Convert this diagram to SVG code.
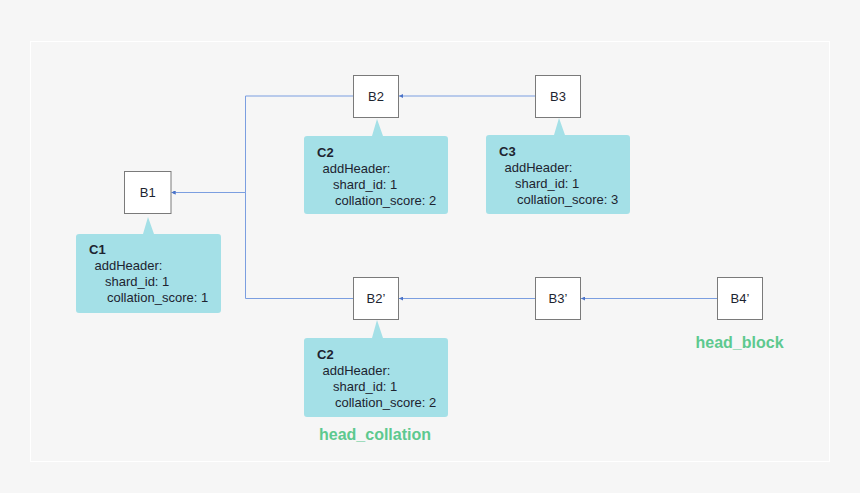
<svg xmlns="http://www.w3.org/2000/svg" width="860" height="493" viewBox="0 0 860 493">
<defs>
<style>
.blk rect{fill:#ffffff;stroke:#7a7a7a;stroke-width:1}
.blk text{font-family:"Liberation Sans",Arial,sans-serif;font-size:13px;fill:#1d2430;text-anchor:middle}
.note path{fill:#a4e0e7}
.note text{font-family:"Liberation Sans",Arial,sans-serif;font-size:13px;fill:#1d2430}
.note .t{font-weight:bold}
.conn path{fill:none;stroke:#7b9ee0;stroke-width:1}
.lbl{font-family:"Liberation Sans",Arial,sans-serif;font-size:16px;font-weight:bold;fill:#5dc98f}
</style>
<marker id="ah" markerWidth="4" markerHeight="4" refX="4" refY="2" orient="auto" markerUnits="userSpaceOnUse">
<path d="M0,0 L4,2 L0,4 z" fill="#4a72c8"/>
</marker>
</defs>
<rect x="0" y="0" width="860" height="493" fill="#f6f6f6"/>
<rect x="30.5" y="41.5" width="799" height="420" fill="#f6f6f6" stroke="#ffffff" stroke-width="1"/>

<g id="connectors" class="conn">
<path d="M353.5,96 H245.5 V192.5 H171.5" marker-end="url(#ah)"/>
<path d="M353.5,298.5 H245.5 V192.5 H171.5" marker-end="url(#ah)"/>
<path d="M535.5,96 H399" marker-end="url(#ah)"/>
<path d="M535.5,298.5 H399" marker-end="url(#ah)"/>
<path d="M717.5,298.5 H581" marker-end="url(#ah)"/>
</g>

<g id="B1" class="blk"><rect x="124.5" y="171.5" width="46.5" height="42"/><text x="147.75" y="197">B1</text></g>
<g id="B2" class="blk"><rect x="353.5" y="75.5" width="45" height="42"/><text x="376" y="101">B2</text></g>
<g id="B3" class="blk"><rect x="535.5" y="75.5" width="45" height="42"/><text x="558" y="101">B3</text></g>
<g id="B2p" class="blk"><rect x="353.5" y="277.5" width="45" height="42"/><text x="376" y="303">B2’</text></g>
<g id="B3p" class="blk"><rect x="535.5" y="277.5" width="45" height="42"/><text x="558" y="303">B3’</text></g>
<g id="B4p" class="blk"><rect x="717.5" y="277.5" width="45" height="42"/><text x="740" y="303">B4’</text></g>

<g id="C1" class="note">
<path d="M79,234 H143 L148,217 L154,234 H218 Q221,234 221,237 V310 Q221,313 218,313 H79 Q76,313 76,310 V237 Q76,234 79,234 Z"/>
<text class="t" x="89" y="254">C1</text>
<text x="94.5" y="270">addHeader:</text>
<text x="105" y="286">shard_id: 1</text>
<text x="107" y="302">collation_score: 1</text>
</g>
<g id="C2" class="note">
<path d="M307,136 H372 L377,119 L383,136 H445 Q448,136 448,139 V211 Q448,214 445,214 H307 Q304,214 304,211 V139 Q304,136 307,136 Z"/>
<text class="t" x="317" y="156.5">C2</text>
<text x="322.5" y="172.5">addHeader:</text>
<text x="333" y="188.5">shard_id: 1</text>
<text x="335" y="204.5">collation_score: 2</text>
</g>
<g id="C3" class="note">
<path d="M489,135 H554 L559,118 L565,135 H627 Q630,135 630,138 V211 Q630,214 627,214 H489 Q486,214 486,211 V138 Q486,135 489,135 Z"/>
<text class="t" x="499" y="155.5">C3</text>
<text x="504.5" y="171.5">addHeader:</text>
<text x="515" y="187.5">shard_id: 1</text>
<text x="517" y="203.5">collation_score: 3</text>
</g>
<g id="C2p" class="note">
<path d="M307,338 H372 L377,320 L383,338 H445 Q448,338 448,341 V414 Q448,417 445,417 H307 Q304,417 304,414 V341 Q304,338 307,338 Z"/>
<text class="t" x="317" y="359">C2</text>
<text x="322.5" y="375">addHeader:</text>
<text x="333" y="391">shard_id: 1</text>
<text x="335" y="407">collation_score: 2</text>
</g>

<g id="head_collation"><text class="lbl" x="319" y="440">head_collation</text></g>
<g id="head_block"><text class="lbl" x="695.5" y="348">head_block</text></g>
</svg>
